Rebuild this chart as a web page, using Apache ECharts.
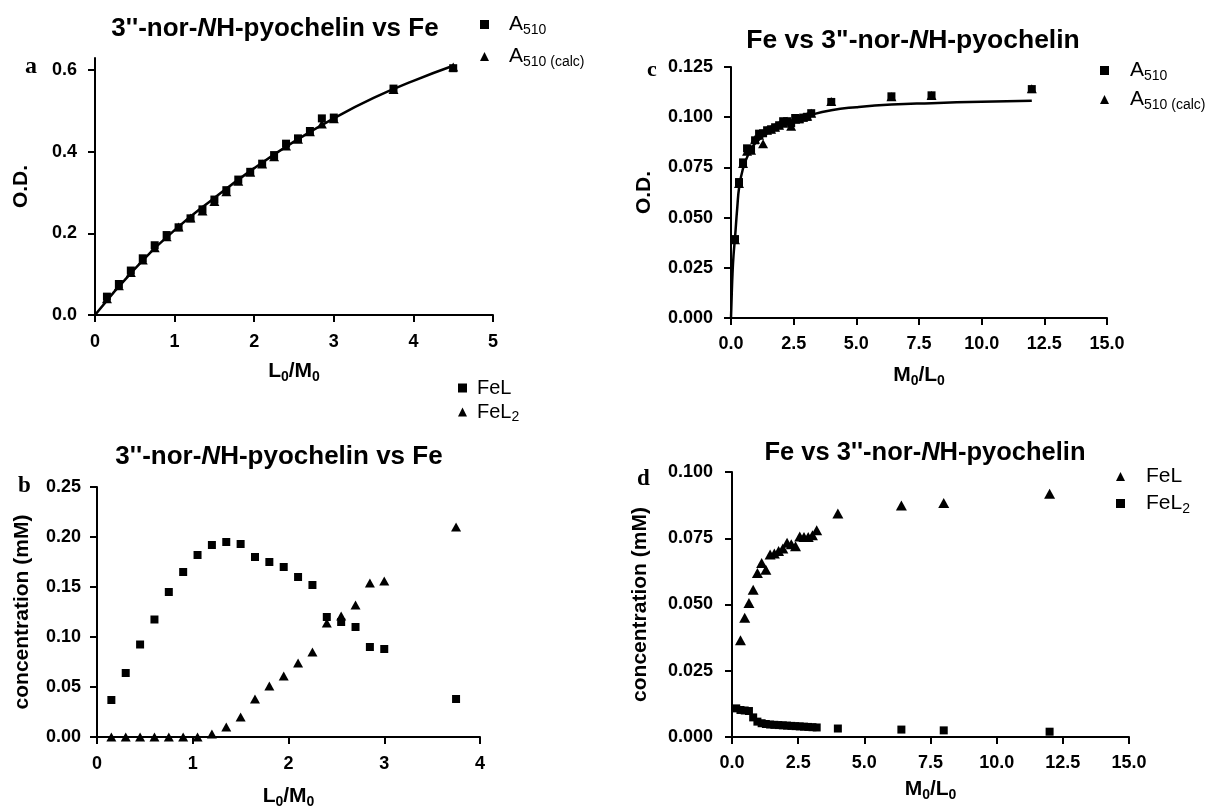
<!DOCTYPE html>
<html>
<head>
<meta charset="utf-8">
<script src="https://cdn.jsdelivr.net/npm/echarts@6/dist/echarts.min.js"></script>
<style>
  html, body { margin: 0; background: #fff; }
  #main { width: 1214px; height: 810px; }
</style>
</head>
<body>
<div id="main"></div>
<script>
// panel a / b : x = L0/M0
var abX = [0.15, 0.3, 0.45, 0.6, 0.75, 0.9, 1.05, 1.2, 1.35, 1.5, 1.65, 1.8, 1.95, 2.1, 2.25, 2.4, 2.55, 2.7, 2.85, 3.0, 3.75, 4.5];
var aA510 = [0.045, 0.076, 0.109, 0.139, 0.171, 0.196, 0.215, 0.237, 0.259, 0.283, 0.306, 0.332, 0.351, 0.371, 0.392, 0.420, 0.433, 0.451, 0.482, 0.484, 0.555, 0.605];
var aA510calc = [0.040, 0.072, 0.104, 0.135, 0.165, 0.192, 0.216, 0.238, 0.255, 0.278, 0.302, 0.328, 0.350, 0.370, 0.388, 0.414, 0.431, 0.449, 0.468, 0.481, 0.553, 0.608];
var aFitX = [0, 0.5, 1.0, 1.5, 2.0, 2.5, 3.0, 3.5, 4.0, 4.5];
var aFitY = [0, 0.113, 0.208, 0.287, 0.360, 0.425, 0.482, 0.532, 0.574, 0.611];

var bFeL = [0.037, 0.064, 0.0925, 0.1175, 0.145, 0.165, 0.182, 0.192, 0.195, 0.193, 0.180, 0.175, 0.170, 0.160, 0.152, 0.120, 0.115, 0.110, 0.090, 0.088, 0.038];
var bFeL2 = [0, 0, 0, 0, 0, 0, 0, 0.003, 0.010, 0.020, 0.038, 0.051, 0.061, 0.074, 0.085, 0.114, 0.121, 0.132, 0.154, 0.156, 0.210];

// panel c / d : x = M0/L0
var cdX = [0.16, 0.32, 0.48, 0.64, 0.8, 0.96, 1.12, 1.28, 1.44, 1.6, 1.76, 1.92, 2.08, 2.24, 2.4, 2.56, 2.72, 2.88, 3.04, 3.2, 4.0, 6.4, 8.0, 12.0];
var cA510 = [0.0393, 0.0677, 0.0775, 0.0845, 0.0840, 0.0885, 0.0918, 0.0920, 0.0935, 0.0940, 0.0950, 0.0960, 0.0980, 0.0980, 0.0970, 0.0996, 0.0990, 0.0998, 0.1002, 0.1020, 0.1076, 0.1104, 0.1109, 0.1140];
var cA510calc = [0.0390, 0.0670, 0.0770, 0.0830, 0.0835, 0.0890, 0.0910, 0.0868, 0.0935, 0.0940, 0.0950, 0.0960, 0.0970, 0.0980, 0.0955, 0.0990, 0.0992, 0.1000, 0.1005, 0.1020, 0.1078, 0.1102, 0.1108, 0.1142];
var cFitX = [0, 0.03, 0.06, 0.1, 0.16, 0.25, 0.33, 0.48, 0.64, 0.8, 1.0, 1.5, 2.0, 2.5, 3.0, 4.0, 5.0, 6.4, 8.0, 10.0, 12.0];
var cFitY = [0, 0.012, 0.022, 0.031, 0.040, 0.055, 0.0655, 0.0745, 0.080, 0.084, 0.0875, 0.0925, 0.0955, 0.0985, 0.1005, 0.1035, 0.1050, 0.1063, 0.1070, 0.1077, 0.1082];

var dFeLX = [0.32, 0.48, 0.64, 0.8, 0.96, 1.12, 1.28, 1.44, 1.6, 1.76, 1.92, 2.08, 2.24, 2.4, 2.56, 2.72, 2.88, 3.04, 3.2, 4.0, 6.4, 8.0, 12.0];
var dFeL = [0.0365, 0.0450, 0.0506, 0.0556, 0.0619, 0.0657, 0.0631, 0.0689, 0.0692, 0.0702, 0.0711, 0.0733, 0.0727, 0.0720, 0.0757, 0.0755, 0.0755, 0.0761, 0.0780, 0.0843, 0.0874, 0.0883, 0.0918];
var dFeL2 = [0.0108, 0.0102, 0.0100, 0.0098, 0.0074, 0.0058, 0.0052, 0.0049, 0.0047, 0.0046, 0.0045, 0.0044, 0.0043, 0.0042, 0.0041, 0.0040, 0.0039, 0.0038, 0.0037, 0.0036, 0.0032, 0.0028, 0.0025, 0.0020];

var FONT = 'Liberation Sans, Arial, Helvetica, sans-serif';
var SERIF = 'Liberation Serif, Times New Roman, serif';

function pairs(xs, ys) {
  return ys.map(function (y, i) { return [xs[i], y]; });
}

// rich styles for subscripts (n = normal, s = subscript)
function subRich(fs, ss, weight) {
  return {
    n: { fontSize: fs, lineHeight: fs, verticalAlign: 'top', fontWeight: weight, fontFamily: FONT, color: '#000' },
    s: { fontSize: ss, lineHeight: ss, padding: [Math.round(fs * 0.42), 0, 0, 0], verticalAlign: 'top', fontWeight: weight, fontFamily: FONT, color: '#000' }
  };
}

function titleRich(fs) {
  return {
    b: { fontSize: fs, fontWeight: 'bold', fontFamily: FONT, color: '#000' },
    i: { fontSize: fs, fontWeight: 'bold', fontStyle: 'italic', fontFamily: FONT, color: '#000' }
  };
}

var axisLine = { show: true, onZero: false, lineStyle: { color: '#000', width: 2 } };
var axisTick = { show: true, inside: false, length: 7, lineStyle: { color: '#000', width: 2 } };

function xAxisOf(gi, min, max, step, dec, name, gap, margin) {
  return {
    type: 'value', gridIndex: gi, min: min, max: max, interval: step,
    axisLine: axisLine, axisTick: axisTick, splitLine: { show: false },
    axisLabel: { color: '#000', fontSize: 18, fontWeight: 'bold', fontFamily: FONT, margin: margin,
      formatter: function (v) { return v.toFixed(dec); } },
    name: name, nameLocation: 'middle', nameGap: gap,
    nameTextStyle: { rich: subRich(21, 14, 'bold') }
  };
}

function yAxisOf(gi, min, max, step, dec, name, gap, margin, custom) {
  var ax = {
    type: 'value', gridIndex: gi, min: min, max: max, interval: step,
    axisLine: axisLine, axisTick: Object.assign({}, axisTick), splitLine: { show: false },
    axisLabel: { color: '#000', fontSize: 18, fontWeight: 'bold', fontFamily: FONT, margin: margin,
      formatter: function (v) { return v.toFixed(dec); } },
    name: name, nameLocation: 'middle', nameGap: gap, nameRotate: 90,
    nameTextStyle: { color: '#000', fontSize: 21, fontWeight: 'bold', fontFamily: FONT }
  };
  if (custom) {
    ax.axisTick.customValues = custom;
    ax.axisLabel.customValues = custom;
  }
  return ax;
}

function scatter(name, gi, data, sym, size) {
  return {
    name: name, type: 'scatter', xAxisIndex: gi, yAxisIndex: gi, data: data,
    symbol: sym, symbolSize: size, clip: false,
    itemStyle: { color: '#000', opacity: 1 }, emphasis: { disabled: true }
  };
}

function fitLine(name, gi, data) {
  return {
    name: name, type: 'line', xAxisIndex: gi, yAxisIndex: gi, data: data,
    smooth: true, showSymbol: false, symbol: 'none', clip: false,
    lineStyle: { color: '#000', width: 2.5 }, emphasis: { disabled: true }, z: 5
  };
}

var legendNames = {
  aObs: '{n|A}{s|510}', aCalc: '{n|A}{s|510 (calc)}',
  bFeL: '{n|FeL}', bFeL2: '{n|FeL}{s|2}',
  cObs: '{n|A}{s|510}', cCalc: '{n|A}{s|510 (calc)}',
  dFeL: '{n|FeL}', dFeL2: '{n|FeL}{s|2}'
};
var legendIcons = {
  aObs: 'rect', aCalc: 'triangle', bFeL: 'rect', bFeL2: 'triangle',
  cObs: 'rect', cCalc: 'triangle', dFeL: 'triangle', dFeL2: 'rect'
};

function legendOf(names, left, top, gap, textPad, fs) {
  return {
    orient: 'vertical', left: left, top: top, itemGap: gap, padding: 0,
    itemWidth: 9, itemHeight: 9, selectedMode: false,
    itemStyle: { color: '#000', opacity: 1 },
    data: names.map(function (n) { return { name: n, icon: legendIcons[n] }; }),
    formatter: function (n) { return legendNames[n]; },
    textStyle: { padding: [0, 0, 0, textPad], rich: subRich(fs, 14, 'normal') }
  };
}

var chart = echarts.init(document.getElementById('main'), null, { renderer: 'canvas' });

var option = {
  backgroundColor: '#fff',
  animation: false,
  title: [
    { text: "{b|3''-nor-}{i|N}{b|H-pyochelin vs Fe}", left: 270, top: 11, textAlign: 'center', textStyle: { rich: titleRich(26) } },
    { text: "{b|3''-nor-}{i|N}{b|H-pyochelin vs Fe}", left: 274, top: 439, textAlign: 'center', textStyle: { rich: titleRich(26) } },
    { text: '{b|Fe vs 3"-nor-}{i|N}{b|H-pyochelin}', left: 908, top: 22, textAlign: 'center', textStyle: { rich: titleRich(26.5) } },
    { text: "{b|Fe vs 3''-nor-}{i|N}{b|H-pyochelin}", left: 920, top: 435, textAlign: 'center', textStyle: { rich: titleRich(25.5) } },
    { text: 'a', left: 20, top: 50, textStyle: { fontFamily: SERIF, fontWeight: 'bold', fontSize: 24, color: '#000' } },
    { text: 'b', left: 13, top: 470, textStyle: { fontFamily: SERIF, fontWeight: 'bold', fontSize: 23, color: '#000' } },
    { text: 'c', left: 642, top: 54, textStyle: { fontFamily: SERIF, fontWeight: 'bold', fontSize: 22, color: '#000' } },
    { text: 'd', left: 632, top: 463, textStyle: { fontFamily: SERIF, fontWeight: 'bold', fontSize: 23, color: '#000' } }
  ],
  legend: [
    legendOf(['aObs', 'aCalc'], 480, 14, 9, 15, 21),
    legendOf(['bFeL', 'bFeL2'], 458, 378, 4, 5, 20),
    legendOf(['cObs', 'cCalc'], 1100, 60, 6, 16, 21),
    legendOf(['dFeL', 'dFeL2'], 1116, 466, 6, 16, 21)
  ],
  grid: [
    { left: 95, top: 58, width: 398, height: 257 },
    { left: 97, top: 487, width: 383, height: 254 },
    { left: 731, top: 67, width: 376, height: 251 },
    { left: 732, top: 472, width: 397, height: 265 }
  ],
  xAxis: [
    xAxisOf(0, 0, 5, 1, 0, '{n|L}{s|0}{n|/M}{s|0}', 46, 18),
    xAxisOf(1, 0, 4, 1, 0, '{n|L}{s|0}{n|/M}{s|0}', 49, 18),
    xAxisOf(2, 0, 15, 2.5, 1, '{n|M}{s|0}{n|/L}{s|0}', 47, 17),
    xAxisOf(3, 0, 15, 2.5, 1, '{n|M}{s|0}{n|/L}{s|0}', 42, 17)
  ],
  yAxis: [
    yAxisOf(0, 0, 0.63, 0.2, 1, 'O.D.', 63, 18, [0, 0.2, 0.4, 0.6]),
    yAxisOf(1, 0, 0.25, 0.05, 2, 'concentration (mM)', 64, 16),
    yAxisOf(2, 0, 0.125, 0.025, 3, 'O.D.', 76, 18),
    yAxisOf(3, 0, 0.1, 0.025, 3, 'concentration (mM)', 81, 19)
  ],
  series: [
    scatter('aObs', 0, pairs(abX, aA510), 'rect', 8),
    scatter('aCalc', 0, pairs(abX, aA510calc), 'triangle', [10, 9]),
    fitLine('aFit', 0, pairs(aFitX, aFitY)),

    scatter('bFeL', 1, pairs(abX, bFeL), 'rect', 8),
    scatter('bFeL2', 1, pairs(abX, bFeL2), 'triangle', [10, 9]),

    scatter('cObs', 2, pairs(cdX, cA510), 'rect', 8),
    scatter('cCalc', 2, pairs(cdX, cA510calc), 'triangle', [10, 9]),
    fitLine('cFit', 2, pairs(cFitX, cFitY)),

    scatter('dFeL', 3, pairs(dFeLX, dFeL), 'triangle', [11, 10]),
    scatter('dFeL2', 3, pairs(cdX, dFeL2), 'rect', 8)
  ]
};

chart.setOption(option);
</script>
</body>
</html>
